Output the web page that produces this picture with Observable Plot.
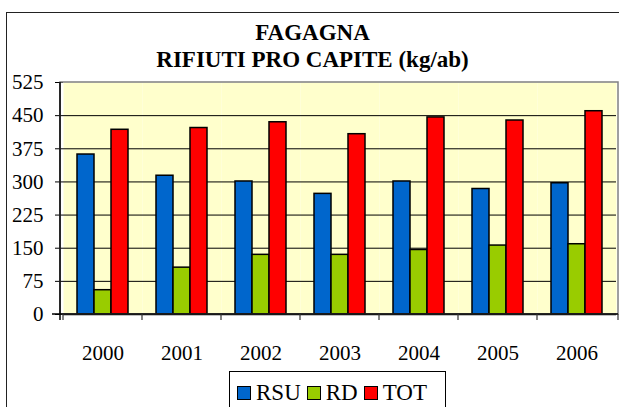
<!DOCTYPE html>
<html><head><meta charset="utf-8">
<script src="https://cdn.jsdelivr.net/npm/d3@7"></script>
<script src="https://cdn.jsdelivr.net/npm/@observablehq/plot@0.6"></script>
</head>
<body style="margin:0;background:#fff;font-family:serif">
<div id="wrap" style="position:relative;width:619px;height:407px;overflow:hidden;color:#000;font-family:serif">
  <div style="position:absolute;left:6px;top:12px;width:700px;height:500px;border-left:1.5px solid #222;border-top:1.5px solid #222"></div>
  <div style="position:absolute;left:6px;width:613px;top:19px;text-align:center;font-weight:bold;font-size:23px;line-height:27px;font-family:serif">FAGAGNA<br>RIFIUTI PRO CAPITE (kg/ab)</div>
  <div id="plotbox" style="position:absolute;left:0;top:70px"></div>
  <div id="legbox" style="position:absolute;left:229px;top:371px;width:217px;height:44px;border:1px solid #000;box-sizing:border-box;display:flex;align-items:flex-start;padding:9px 0 0 7px;font-size:23px;line-height:24px;font-family:serif"></div>
</div>
<script>
const years = ["2000","2001","2002","2003","2004","2005","2006"];
const series = ["RSU","RD","TOT"];
const rsu = [362,314,301,273,301,284,297];
const rd  = [55,106,135,135,146,156,159];
const tot = [418,422,435,408,446,439,460];
const colors = ["#0066CC","#99CC00","#FF0000"];
const yTicks = [0,75,150,225,300,375,450,525];

const values = {RSU: rsu, RD: rd, TOT: tot};
const data = years.flatMap((yr, i) => series.map(s => ({year: yr, series: s, value: values[s][i]})));

const plot = Plot.plot({
  width: 619, height: 300,
  marginTop: 12, marginLeft: 60, marginRight: 1, marginBottom: 56,
  style: {fontFamily: "serif", fontSize: "21px", background: "transparent", color: "black", overflow: "visible"},
  fx: {domain: years, padding: 0, label: null, tickSize: 0, tickPadding: 31},
  x: {domain: series, paddingInner: 0, paddingOuter: 0.75, axis: null},
  y: {domain: [0, 525], ticks: yTicks, tickSize: 8, tickPadding: 12, label: null},
  color: {domain: series, range: colors},
  marks: [
    Plot.frame({fill: "#FFFFCC", stroke: null}),
    Plot.ruleY(yTicks.slice(1, -1), {stroke: "black", strokeWidth: 1}),
    Plot.barY(data, {fx: "year", x: "series", y: "value", fill: "series", stroke: "black", strokeWidth: 1.5, insetLeft: 0, insetRight: 0}),
    Plot.ruleY([0], {stroke: "black", strokeWidth: 1.5})
  ]
});
document.getElementById("plotbox").appendChild(plot);

// plot-area border, y-axis line and category boundary ticks, from Plot's scales
const svg = d3.select(plot);
const fx = plot.scale("fx"), y = plot.scale("y");
const x0 = fx.range[0], x1 = fx.range[1];
const yTop = y.apply(525), yBot = y.apply(0);
svg.append("rect").attr("x", x0).attr("y", yTop).attr("width", x1 - x0).attr("height", yBot - yTop)
  .attr("fill", "none").attr("stroke", "#808080").attr("stroke-width", 1.5);
svg.append("line").attr("x1", x0).attr("x2", x0).attr("y1", yTop).attr("y2", yBot + 6).attr("stroke", "black").attr("stroke-width", 1.5);
svg.append("line").attr("x1", x0 - 8).attr("x2", x1).attr("y1", yBot).attr("y2", yBot).attr("stroke", "black").attr("stroke-width", 1.5);
years.forEach((yr) => {
  const bx = fx.apply(yr);
  svg.append("line").attr("x1", bx).attr("x2", bx).attr("y1", yBot).attr("y2", yBot + 6).attr("stroke", "#333").attr("stroke-width", 1.2);
});
svg.append("line").attr("x1", x1).attr("x2", x1).attr("y1", yBot).attr("y2", yBot + 6).attr("stroke", "#333").attr("stroke-width", 1.2);

// legend
const legend = d3.select("#legbox");
series.forEach((s, i) => {
  const it = legend.append("div").style("display", "flex").style("align-items", "center").style("margin-right", "6px");
  it.append("div").style("width", "14px").style("height", "14px").style("border", "1.5px solid #000")
    .style("box-sizing", "border-box").style("margin-right", "5px").style("background", colors[i]);
  it.append("span").style("font-family", "serif").text(s);
});
</script>
</body></html>
